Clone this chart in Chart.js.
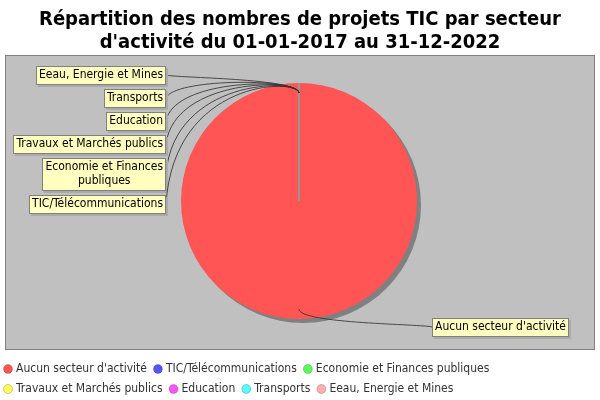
<!DOCTYPE html>
<html>
<head>
<meta charset="utf-8">
<script src="https://cdn.jsdelivr.net/npm/chart.js@4.4.0/dist/chart.umd.min.js"></script>
<style>
  body { margin: 0; background: #fff; }
  canvas { display: block; }
</style>
</head>
<body>
<canvas id="pieChart" width="600" height="400"></canvas>
<script>
var titleLines = ['Répartition des nombres de projets TIC par secteur', "d'activité du 01-01-2017 au 31-12-2022"];
var sectors = ["Aucun secteur d'activité", 'TIC/Télécommunications', 'Economie et Finances publiques',
  'Travaux et Marchés publics', 'Education', 'Transports', 'Eeau, Energie et Mines'];
var projects = [34, 0, 0, 0, 0, 0, 0];
var sectorColors = ['rgb(255, 85, 85)', 'rgb(85, 85, 255)', 'rgb(85, 255, 85)', 'rgb(255, 255, 85)',
  'rgb(255, 85, 255)', 'rgb(85, 255, 255)', 'rgb(255, 175, 175)'];

var labelFont = '12px "DejaVu Sans Condensed", "DejaVu Sans"';
var titleFont = 'bold 20px "DejaVu Sans Condensed", "DejaVu Sans"';

// split a label in lines no wider than maxW
function wrapText(ctx, text, maxW) {
  var words = text.split(' '), lines = [], cur = '';
  words.forEach(function (w) {
    var test = cur ? cur + ' ' + w : w;
    if (cur && ctx.measureText(test).width > maxW) { lines.push(cur); cur = w; }
    else cur = test;
  });
  lines.push(cur);
  return lines;
}

var jfreeLook = {
  id: 'jfreeLook',
  beforeDraw: function (chart) {
    var ctx = chart.ctx;
    ctx.save();
    ctx.fillStyle = '#fff';
    ctx.fillRect(0, 0, chart.width, chart.height);
    ctx.fillStyle = 'rgb(192, 192, 192)';
    ctx.fillRect(5, 55, 590, 295);
    ctx.strokeStyle = 'rgb(128, 128, 128)';
    ctx.lineWidth = 1;
    ctx.strokeRect(5.5, 55.5, 589, 294);
    ctx.restore();
  },
  beforeDatasetsDraw: function (chart) {
    // drop shadow under the pie
    var arc = chart.getDatasetMeta(0).data[0];
    var ctx = chart.ctx;
    ctx.save();
    ctx.fillStyle = 'rgb(128, 128, 128)';
    ctx.beginPath();
    ctx.arc(arc.x + 4, arc.y + 4, arc.outerRadius, 0, Math.PI * 2);
    ctx.fill();
    ctx.restore();
  },
  afterDatasetsDraw: function (chart) {
    var ctx = chart.ctx;
    var meta = chart.getDatasetMeta(0);
    var cx = meta.data[0].x, cy = meta.data[0].y, r = meta.data[0].outerRadius;

    ctx.save();
    // section outline seam
    ctx.strokeStyle = 'rgb(150, 150, 150)';
    ctx.lineWidth = 2;
    meta.data.forEach(function (a) {
      ctx.beginPath();
      ctx.moveTo(cx, cy);
      ctx.lineTo(cx + r * Math.cos(a.startAngle), cy + r * Math.sin(a.startAngle));
      ctx.stroke();
    });

    // label records
    ctx.font = labelFont;
    var left = [], right = [];
    meta.data.forEach(function (a, i) {
      var mid = (a.startAngle + a.endAngle) / 2;
      var lines = wrapText(ctx, sectors[i], 150);
      var w = 0;
      lines.forEach(function (l) { w = Math.max(w, ctx.measureText(l).width); });
      var rec = {
        i: i, mid: mid, lines: lines, w: w + 6, h: lines.length * 14 + 5,
        y: cy + (r + 8) * Math.sin(mid)
      };
      (Math.cos(mid) < 0 ? left : right).push(rec);
    });
    [left, right].forEach(function (side) {
      side.sort(function (p, q) { return (p.y - q.y) || (q.i - p.i); });
      var prevBottom = -Infinity;
      side.forEach(function (rec) {
        var top = Math.max(rec.y - rec.h / 2, prevBottom + 4);
        rec.top = top;
        prevBottom = top + rec.h;
      });
    });

    function drawLabel(rec, isLeft) {
      var bx = isLeft ? cx - r - 15 - rec.w : cx + r + 15;
      var ly = rec.top + rec.h / 2;
      var lx = isLeft ? bx + rec.w : bx;
      var s = isLeft ? 1 : -1;
      var ax = cx + (r - 10) * Math.cos(rec.mid), ay = cy + (r - 10) * Math.sin(rec.mid);
      var ex = cx + (r + 5) * Math.cos(rec.mid), ey = cy + (r + 5) * Math.sin(rec.mid);
      ctx.strokeStyle = 'rgba(50, 50, 50, 0.85)';
      ctx.lineWidth = 1;
      ctx.beginPath();
      ctx.moveTo(lx, ly);
      ctx.bezierCurveTo(lx + s * 8, ey, ex, ey, ax, ay);
      ctx.stroke();

      ctx.fillStyle = 'rgb(170, 170, 170)';
      ctx.fillRect(Math.round(bx) + 2, Math.round(rec.top) + 2, Math.round(rec.w), Math.round(rec.h));
      ctx.fillStyle = 'rgb(255, 255, 192)';
      ctx.fillRect(Math.round(bx), Math.round(rec.top), Math.round(rec.w), Math.round(rec.h));
      ctx.strokeStyle = 'rgb(128, 128, 128)';
      ctx.strokeRect(Math.round(bx) + 0.5, Math.round(rec.top) + 0.5, Math.round(rec.w) - 1, Math.round(rec.h) - 1);
      ctx.fillStyle = '#000';
      ctx.textAlign = 'center';
      ctx.textBaseline = 'middle';
      rec.lines.forEach(function (l, k) {
        ctx.fillText(l, bx + rec.w / 2, rec.top + 2.5 + 7 + k * 14);
      });
    }
    left.forEach(function (rec) { drawLabel(rec, true); });
    right.forEach(function (rec) { drawLabel(rec, false); });
    ctx.restore();
  },
  afterDraw: function (chart) {
    var ctx = chart.ctx;
    ctx.save();
    // title
    ctx.fillStyle = '#000';
    ctx.font = titleFont;
    ctx.textAlign = 'center';
    ctx.textBaseline = 'alphabetic';
    ctx.fillText(titleLines[0], 300, 25);
    ctx.fillText(titleLines[1], 300, 48);

    // legend
    ctx.font = labelFont;
    ctx.textAlign = 'left';
    ctx.textBaseline = 'middle';
    var x = 3, y = 369;
    sectors.forEach(function (name, i) {
      var w = 13 + ctx.measureText(name).width;
      if (x + w > 585) { x = 3; y += 20; }
      ctx.fillStyle = sectorColors[i];
      ctx.beginPath();
      ctx.arc(x + 5, y, 4.5, 0, Math.PI * 2);
      ctx.fill();
      ctx.strokeStyle = 'rgba(0, 0, 0, 0.2)';
      ctx.stroke();
      ctx.fillStyle = '#333';
      ctx.fillText(name, x + 13, y);
      x += w + 6;
    });
    ctx.restore();
  }
};

var pieChart = document.getElementById('pieChart').getContext('2d');
var chart = new Chart(pieChart, {
  type: 'pie',
  data: {
    labels: sectors,
    datasets: [{
      label: 'Nombre de projets',
      backgroundColor: sectorColors,
      borderWidth: 0,
      data: projects
    }]
  },
  options: {
    responsive: false,
    animation: false,
    layout: { padding: { left: 181, right: 183, top: 83, bottom: 81 } },
    plugins: {
      legend: { display: false },
      title: { display: false },
      tooltip: { enabled: false }
    }
  },
  plugins: [jfreeLook]
});
</script>
</body>
</html>
